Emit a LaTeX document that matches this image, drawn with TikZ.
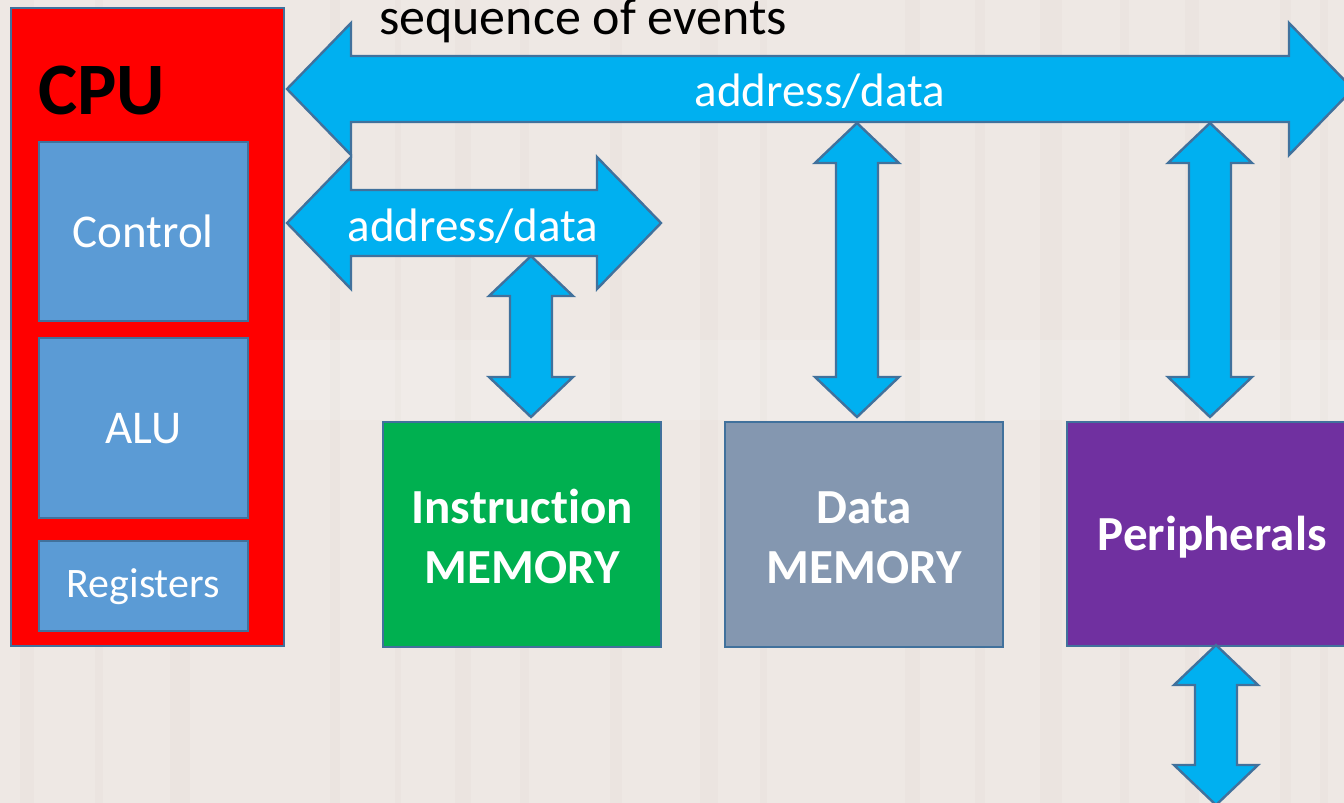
\documentclass[tikz,border=0pt]{standalone}
\usepackage{fontspec}
\setmainfont{Carlito}[Ligatures=NoCommon]
\usetikzlibrary{calc}

\definecolor{bgtone}{RGB}{238,232,228}
\definecolor{streak}{RGB}{214,200,196}
\definecolor{busblue}{RGB}{0,176,240}
\definecolor{edgeblue}{RGB}{65,113,156}
\definecolor{cpured}{RGB}{255,0,0}
\definecolor{unitblue}{RGB}{91,155,213}
\definecolor{imemgreen}{RGB}{0,176,80}
\definecolor{dmemgrey}{RGB}{132,151,176}
\definecolor{periphpurple}{RGB}{112,48,160}

% horizontal double block arrow: left tip x, right tip x, centre y
\newcommand\hbus[3]{%
  \path[busshape] (#1,#3) -- ({#1+64},{#3-66}) -- ({#1+64},{#3-33})
    -- ({#2-64},{#3-33}) -- ({#2-64},{#3-66}) -- (#2,#3)
    -- ({#2-64},{#3+66}) -- ({#2-64},{#3+33}) -- ({#1+64},{#3+33})
    -- ({#1+64},{#3+66}) -- cycle;}
% vertical double block arrow: centre x, top tip y, bottom tip y
\newcommand\vbus[3]{%
  \path[busshape] (#1,#2) -- ({#1+42},{#2+40}) -- ({#1+21},{#2+40})
    -- ({#1+21},{#3-40}) -- ({#1+42},{#3-40}) -- (#1,#3)
    -- ({#1-42},{#3-40}) -- ({#1-21},{#3-40}) -- ({#1-21},{#2+40})
    -- ({#1-42},{#2+40}) -- cycle;}

\tikzset{
  busshape/.style={fill=busblue, draw=edgeblue, line width=1.2pt, line join=miter},
  block/.style={draw=edgeblue, line width=1.2pt, inner sep=0pt},
  unit/.style={block, fill=unitblue},
  unittext/.style={text=white, font=\fontsize{23.5}{28}\selectfont, inner sep=0pt},
  memtext/.style={text=white, align=center, inner sep=0pt,
    font=\bfseries\fontsize{24.5}{30}\selectfont},
  bustext/.style={text=white, font=\fontsize{23.5}{28}\selectfont, inner sep=0pt},
}

\begin{document}
\begin{tikzpicture}[x=0.5pt, y=-0.5pt]
  \useasboundingbox (0,0) rectangle (1344,803);
  \clip (0,0) rectangle (1344,803);

  % washed-out backdrop
  \fill[bgtone] (0,0) rectangle (1344,803);
  \foreach \sx/\sw in {20/14, 95/8, 170/20, 330/10, 395/6, 455/16, 520/9,
                       610/12, 700/18, 760/7, 905/15, 975/10, 1040/22,
                       1120/9, 1185/14, 1280/11, 1320/8}
    \fill[streak, opacity=0.12] (\sx,0) rectangle ({\sx+\sw},803);
  \fill[white, opacity=0.15] (0,340) rectangle (1344,420);

  % CPU with its units
  \node[block, fill=cpured, minimum width=136.5pt, minimum height=319pt,
        anchor=north west] (cpu) at (10,7) {};
  \node[anchor=base west, inner sep=0pt,
        font=\bfseries\fontsize{37}{44}\selectfont] (cpulabel) at (38,114) {CPU};
  \node[unit, minimum width=104.5pt, minimum height=89.5pt, anchor=north west]
        (control) at (37.5,141) {};
  \node[unittext] at (control.center) {Control};
  \node[unit, minimum width=104.5pt, minimum height=90pt, anchor=north west]
        (alu) at (37.5,337) {};
  \node[unittext] at (alu.center) {ALU};
  \node[unit, minimum width=104.5pt, minimum height=45pt, anchor=north west]
        (regs) at (37.5,540) {};
  \node[unittext, font=\fontsize{21}{25}\selectfont] at (regs.center) {Registers};

  % memories and peripherals
  \node[block, fill=imemgreen, minimum width=139pt, minimum height=112.5pt,
        anchor=north west] (imem) at (382,421) {};
  \node[memtext] at ($(imem.center)+(0,2)$) {Instruction\\MEMORY};
  \node[block, fill=dmemgrey, minimum width=139pt, minimum height=112.5pt,
        anchor=north west] (dmem) at (724,421) {};
  \node[memtext] at ($(dmem.center)+(0,3)$) {Data\\MEMORY};
  \node[block, fill=periphpurple, minimum width=145pt, minimum height=112pt,
        anchor=north west] (periph) at (1066,421) {};
  \node[memtext] at ($(periph.center)+(0,3)$) {Peripherals};

  % buses
  \hbus{287}{1353}{89}
  \node[bustext] (busA) at (820,91) {address/data};
  \hbus{287}{661}{223}
  \node[bustext] (busB) at (473,226) {address/data};

  \vbus{531}{256}{417}
  \vbus{857}{123}{417}
  \vbus{1210}{123}{417}
  \vbus{1216}{645}{805}

  \node[anchor=base, inner sep=0pt, font=\fontsize{26}{31}\selectfont]
        (seq) at (583,34) {sequence of events};
\end{tikzpicture}
\end{document}
